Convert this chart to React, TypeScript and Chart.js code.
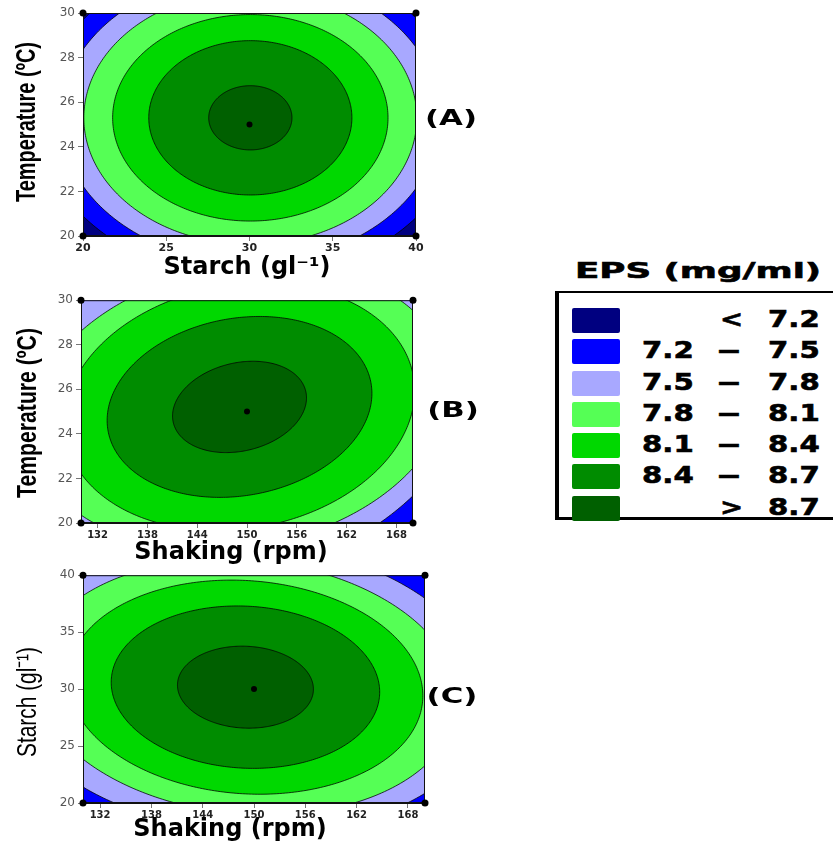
import React, { useEffect, useRef } from 'react';
import { Chart, registerables } from 'chart.js';

Chart.register(...registerables);

// EPS contour levels (mg/ml) and band colours (lowest band first)
const EPS_LEVELS = [7.2, 7.5, 7.8, 8.1, 8.4, 8.7];
const BAND_COLORS = ['#000080', '#0000FF', '#A8A8FF', '#55FF55', '#00D800', '#008C00', '#006000'];
const LEGEND_LOW = ['', '7.2', '7.5', '7.8', '8.1', '8.4', ''];
const LEGEND_MID = ['<', '—', '—', '—', '—', '—', '>'];
const LEGEND_HIGH = ['7.2', '7.5', '7.8', '8.1', '8.4', '8.7', '8.7'];

// Panel A: Starch vs Temperature (contour ellipses, one entry per EPS level)
const A_X_TICKS = [20, 25, 30, 35, 40];
const A_Y_TICKS = [20, 22, 24, 26, 28, 30];
const A_CENTER_X = [30.05, 30.05, 30.05, 30.05, 30.05, 30.05];
const A_CENTER_Y = [25.3, 25.3, 25.3, 25.3, 25.3, 25.3];
const A_HALF_X = [12.7, 11.4, 10.0, 8.27, 6.1, 2.5];
const A_HALF_Y = [7.2, 6.48, 5.68, 4.63, 3.46, 1.44];
const A_TILT = [0, 0, 0, 0, 0, 0];
const A_DESIGN_X = [20, 20, 40, 40, 30];
const A_DESIGN_Y = [20, 30, 20, 30, 25];

// Panel B: Shaking vs Temperature
const B_X_TICKS = [132, 138, 144, 150, 156, 162, 168];
const B_Y_TICKS = [20, 22, 24, 26, 28, 30];
const B_CENTER_X = [148.8, 148.6, 149.1, 149.1, 149.1, 149.1];
const B_CENTER_Y = [25.21, 25.21, 25.21, 25.21, 25.21, 25.21];
const B_HALF_X = [32.5, 28.7, 25.2, 21.1, 15.95, 8.07];
const B_HALF_Y = [8.8, 7.9, 6.4, 5.55, 4.06, 2.05];
const B_TILT = [0.2, 0.2, 0.15, 0.13, 0.15, 0.2];
const B_DESIGN_X = [130, 130, 170, 170, 150];
const B_DESIGN_Y = [20, 30, 20, 30, 25];

// Panel C: Shaking vs Starch
const C_X_TICKS = [132, 138, 144, 150, 156, 162, 168];
const C_Y_TICKS = [20, 25, 30, 35, 40];
const C_CENTER_X = [149.0, 149.0, 149.0, 149.0, 149.0, 149.0];
const C_CENTER_Y = [30.17, 30.17, 30.17, 30.17, 30.17, 30.17];
const C_HALF_X = [32.0, 28.3, 24.8, 20.75, 15.7, 7.95];
const C_HALF_Y = [14.6, 12.8, 11.23, 9.4, 7.13, 3.6];
const C_TILT = [-0.08, -0.08, -0.1, -0.08, -0.06, -0.05];
const C_DESIGN_X = [130, 130, 170, 170, 150];
const C_DESIGN_Y = [20, 40, 20, 40, 30];

type Panel = {
  id: string;
  top: number;
  height: number;
  xMin: number; xMax: number; yMin: number; yMax: number;
  xTicks: number[]; yTicks: number[];
  centerX: number[]; centerY: number[]; halfX: number[]; halfY: number[]; tilt: number[];
  designX: number[]; designY: number[];
  padTop: number; padRight: number; yAxisW: number; xAxisH: number;
  xTickFont: number;
  xTitle: string; xTitlePos: number[];
  yTitle: string; yTitlePos: number[]; yTitleMax: number; yTitleWeight: string;
  label: string; labelPos: number[];
};

const PANELS: Panel[] = [
  {
    id: 'A', top: 0, height: 290,
    xMin: 20, xMax: 40, yMin: 20, yMax: 30,
    xTicks: A_X_TICKS, yTicks: A_Y_TICKS,
    centerX: A_CENTER_X, centerY: A_CENTER_Y, halfX: A_HALF_X, halfY: A_HALF_Y, tilt: A_TILT,
    designX: A_DESIGN_X, designY: A_DESIGN_Y,
    padTop: 13, padRight: 84, yAxisW: 83, xAxisH: 54,
    xTickFont: 11,
    xTitle: 'Starch (gl⁻¹)', xTitlePos: [247, 268],
    yTitle: 'Temperature (ºC)', yTitlePos: [27, 122], yTitleMax: 160, yTitleWeight: 'bold',
    label: '(A)', labelPos: [451, 119],
  },
  {
    id: 'B', top: 290, height: 280,
    xMin: 130, xMax: 170, yMin: 20, yMax: 30,
    xTicks: B_X_TICKS, yTicks: B_Y_TICKS,
    centerX: B_CENTER_X, centerY: B_CENTER_Y, halfX: B_HALF_X, halfY: B_HALF_Y, tilt: B_TILT,
    designX: B_DESIGN_X, designY: B_DESIGN_Y,
    padTop: 10, padRight: 87, yAxisW: 81, xAxisH: 47,
    xTickFont: 10,
    xTitle: 'Shaking (rpm)', xTitlePos: [231, 263],
    yTitle: 'Temperature (ºC)', yTitlePos: [28, 123], yTitleMax: 170, yTitleWeight: 'bold',
    label: '(B)', labelPos: [453, 121],
  },
  {
    id: 'C', top: 565, height: 280,
    xMin: 130, xMax: 170, yMin: 20, yMax: 40,
    xTicks: C_X_TICKS, yTicks: C_Y_TICKS,
    centerX: C_CENTER_X, centerY: C_CENTER_Y, halfX: C_HALF_X, halfY: C_HALF_Y, tilt: C_TILT,
    designX: C_DESIGN_X, designY: C_DESIGN_Y,
    padTop: 8, padRight: 75, yAxisW: 83, xAxisH: 42,
    xTickFont: 10,
    xTitle: 'Shaking (rpm)', xTitlePos: [230, 265],
    yTitle: 'Starch (gl⁻¹)', yTitlePos: [28, 137], yTitleMax: 110, yTitleWeight: 'normal',
    label: '(C)', labelPos: [452, 132],
  },
];

function contourPlugin(p: Panel) {
  return {
    id: 'contours' + p.id,
    beforeDatasetsDraw(chart: any) {
      const { ctx, chartArea: ca, scales } = chart;
      const xs = scales.x;
      const ys = scales.y;
      ctx.save();
      ctx.beginPath();
      ctx.rect(ca.left, ca.top, ca.right - ca.left, ca.bottom - ca.top);
      ctx.clip();
      ctx.fillStyle = BAND_COLORS[0];
      ctx.fillRect(ca.left, ca.top, ca.right - ca.left, ca.bottom - ca.top);
      const N = 360;
      for (let i = 0; i < EPS_LEVELS.length; i++) {
        ctx.beginPath();
        for (let k = 0; k <= N; k++) {
          const t = (k / N) * Math.PI * 2;
          const vx = p.centerX[i] + p.halfX[i] * Math.cos(t);
          const vy = p.centerY[i] + p.halfY[i] * Math.sin(t + p.tilt[i]);
          const px = xs.getPixelForValue(vx);
          const py = ys.getPixelForValue(vy);
          if (k === 0) ctx.moveTo(px, py);
          else ctx.lineTo(px, py);
        }
        ctx.closePath();
        ctx.fillStyle = BAND_COLORS[i + 1];
        ctx.fill();
        ctx.lineWidth = 0.9;
        ctx.strokeStyle = 'rgba(0,0,0,0.85)';
        ctx.stroke();
      }
      ctx.restore();
      ctx.save();
      ctx.strokeStyle = '#111';
      ctx.lineWidth = 1;
      ctx.strokeRect(ca.left + 0.5, ca.top + 0.5, ca.right - ca.left - 1, ca.bottom - ca.top - 1);
      ctx.restore();
    },
    afterDraw(chart: any) {
      const { ctx } = chart;
      // x axis title
      ctx.save();
      ctx.fillStyle = '#000';
      ctx.font = 'bold 24px "DejaVu Sans"';
      ctx.textAlign = 'center';
      ctx.textBaseline = 'middle';
      ctx.fillText(p.xTitle, p.xTitlePos[0], p.xTitlePos[1]);
      ctx.restore();
      // y axis title (condensed)
      ctx.save();
      ctx.fillStyle = '#000';
      ctx.translate(p.yTitlePos[0], p.yTitlePos[1]);
      ctx.rotate(-Math.PI / 2);
      ctx.font = p.yTitleWeight + ' 28px "Liberation Sans"';
      ctx.textAlign = 'center';
      ctx.textBaseline = 'middle';
      ctx.fillText(p.yTitle, 0, 0, p.yTitleMax);
      ctx.restore();
      // panel label
      ctx.save();
      ctx.fillStyle = '#000';
      ctx.translate(p.labelPos[0], p.labelPos[1]);
      ctx.scale(1.4, 1);
      ctx.font = 'bold 22px "DejaVu Sans"';
      ctx.textAlign = 'center';
      ctx.textBaseline = 'middle';
      ctx.fillText(p.label, 0, 0);
      ctx.restore();
    },
  };
}

function ContourPanel({ p }: { p: Panel }) {
  const ref = useRef<HTMLCanvasElement | null>(null);
  useEffect(() => {
    if (!ref.current) return;
    const chart = new Chart(ref.current, {
      type: 'scatter',
      data: {
        datasets: [
          {
            data: p.designX.map((x, i) => ({ x, y: p.designY[i] })),
            pointRadius: [3.5, 3.5, 3.5, 3.5, 3],
            pointBackgroundColor: '#000',
            pointBorderWidth: 0,
            clip: false,
          } as any,
        ],
      },
      options: {
        animation: false,
        responsive: false,
        maintainAspectRatio: false,
        events: [],
        layout: { padding: { top: p.padTop, right: p.padRight, left: 0, bottom: 0 } },
        plugins: { legend: { display: false }, tooltip: { enabled: false } },
        scales: {
          x: {
            type: 'linear',
            min: p.xMin,
            max: p.xMax,
            afterFit: (s: any) => { s.height = p.xAxisH; },
            afterBuildTicks: (s: any) => { s.ticks = p.xTicks.map((v) => ({ value: v })); },
            grid: { drawOnChartArea: false, tickLength: 5, color: '#777' },
            border: { color: '#111' },
            ticks: {
              autoSkip: false,
              maxRotation: 0,
              padding: 1,
              color: '#222',
              font: { family: 'DejaVu Sans', size: p.xTickFont, weight: 'bold' },
            },
          },
          y: {
            type: 'linear',
            min: p.yMin,
            max: p.yMax,
            afterFit: (s: any) => { s.width = p.yAxisW; },
            afterBuildTicks: (s: any) => { s.ticks = p.yTicks.map((v) => ({ value: v })); },
            grid: { drawOnChartArea: false, tickLength: 5, color: '#777' },
            border: { color: '#111' },
            ticks: {
              autoSkip: false,
              padding: 3,
              color: '#555',
              font: { family: 'DejaVu Sans', size: 12 },
            },
          },
        },
      } as any,
      plugins: [contourPlugin(p)],
    });
    return () => chart.destroy();
  }, [p]);
  return (
    <canvas
      ref={ref}
      width={500}
      height={p.height}
      style={{ position: 'absolute', left: 0, top: p.top, width: 500, height: p.height }}
    />
  );
}

const ROW_CENTERS = [320, 351, 383, 414, 445, 476, 508];

function Legend() {
  const font = '"DejaVu Sans", sans-serif';
  const txt = (text: string, left: number, top: number, size: number, sx: number) => (
    <span
      style={{
        position: 'absolute', left, top, fontFamily: font, fontWeight: 'bold', fontSize: size,
        lineHeight: size + 'px', whiteSpace: 'nowrap', transform: `scaleX(${sx})`,
        transformOrigin: 'left center', color: '#000', WebkitTextStroke: '0.6px #000',
      }}
    >
      {text}
    </span>
  );
  return (
    <>
      {txt('EPS (mg/ml)', 575, 260, 22, 1.62)}
      <div
        style={{
          position: 'absolute', left: 555, top: 291, width: 300, height: 229, boxSizing: 'border-box',
          borderStyle: 'solid', borderColor: '#000', borderWidth: '2px 2px 3px 4px', background: '#fff',
        }}
      />
      {BAND_COLORS.map((c, i) => (
        <React.Fragment key={i}>
          <div
            style={{
              position: 'absolute', left: 572, top: ROW_CENTERS[i] - 12.5, width: 48, height: 25,
              background: c, borderRadius: 2,
            }}
          />
          {LEGEND_LOW[i] ? txt(LEGEND_LOW[i], 642, ROW_CENTERS[i] - 12, 23, 1.27) : null}
          {txt(LEGEND_MID[i], LEGEND_MID[i] === '—' ? 718 : 720, ROW_CENTERS[i] - 12, 23, LEGEND_MID[i] === '—' ? 0.95 : 1.2)}
          {txt(LEGEND_HIGH[i], 768, ROW_CENTERS[i] - 12, 23, 1.27)}
        </React.Fragment>
      ))}
    </>
  );
}

export default function App() {
  return (
    <div
      style={{
        position: 'absolute', left: 0, top: 0, width: 833, height: 845, overflow: 'hidden', background: '#fff',
      }}
    >
      {PANELS.map((p) => (
        <ContourPanel key={p.id} p={p} />
      ))}
      <Legend />
    </div>
  );
}
